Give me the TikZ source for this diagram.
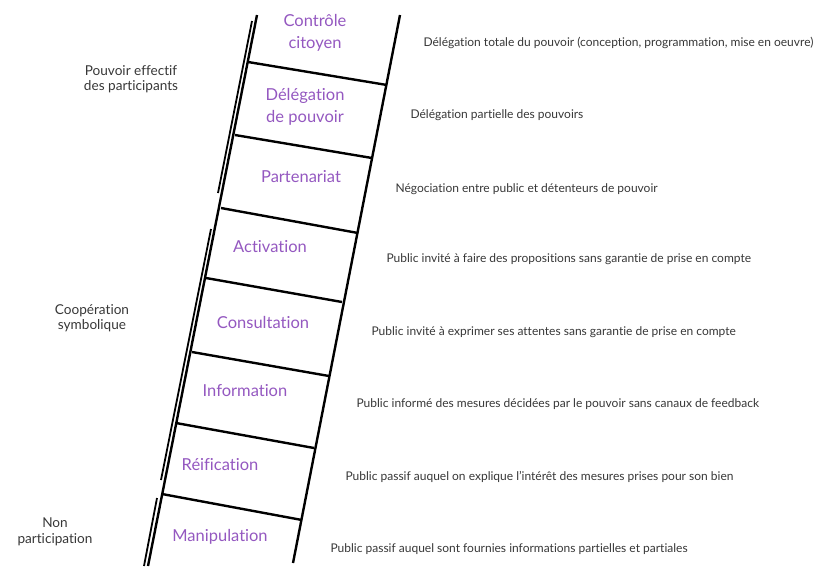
\documentclass[tikz,border=0pt]{standalone}
\usepackage{fontspec}
\setmainfont{Lato}[Ligatures = NoCommon]
\definecolor{violet}{RGB}{148,88,192}
\definecolor{gris}{RGB}{55,55,55}
\begin{document}
\begin{tikzpicture}[x = 1pt, y = -1pt,
        montant/.style = {line width = 2.4pt},
        barreau/.style = {line width = 2.4pt},
        groupe/.style = {line width = 1.8pt},
        niveau/.style = {text = violet, font = \fontsize{16.5}{21.5}\selectfont, align = center},
        desc/.style = {text = gris, anchor = west, font = \fontsize{12}{14}\selectfont},
        classe/.style = {text = gris, align = center, font = \fontsize{13.6}{15.5}\selectfont}]
                \useasboundingbox (0, 0) rectangle (821, 566);
                % montants
                \coordinate (gh) at (257, 15);
                \coordinate (gb) at (148, 566);
                \coordinate (dh) at (400, 15);
                \coordinate (db) at (293, 563);
                \draw[montant] (gh) -- (gb);
                \draw[montant] (dh) -- (db);
                % barreaux
                \coordinate (b1g) at (248, 62);   \coordinate (b1d) at (387, 85);
                \coordinate (b2g) at (235, 135);  \coordinate (b2d) at (372, 158);
                \coordinate (b3g) at (221, 208);  \coordinate (b3d) at (358, 233);
                \coordinate (b4g) at (206, 278);  \coordinate (b4d) at (342, 302);
                \coordinate (b5g) at (192, 352);  \coordinate (b5d) at (329, 376);
                \coordinate (b6g) at (176, 423);  \coordinate (b6d) at (314, 448);
                \coordinate (b7g) at (162, 494);  \coordinate (b7d) at (302, 520);
                \draw[barreau] (b1g) -- (b1d);
                \draw[barreau] (b2g) -- (b2d);
                \draw[barreau] (b3g) -- (b3d);
                \draw[barreau] (b4g) -- (b4d);
                \draw[barreau] (b5g) -- (b5d);
                \draw[barreau] (b6g) -- (b6d);
                \draw[barreau] (b7g) -- (b7d);
                % doubles traits des groupes
                \coordinate (p1h) at (252, 21);   \coordinate (p1b) at (218, 193);
                \coordinate (p2h) at (211, 229);  \coordinate (p2b) at (161, 480);
                \coordinate (p3h) at (157, 498);  \coordinate (p3b) at (144, 566);
                \draw[groupe] (p1h) -- (p1b);
                \draw[groupe] (p2h) -- (p2b);
                \draw[groupe] (p3h) -- (p3b);
                % niveaux
                \node[niveau] (controle) at (315, 33) {Contrôle\\citoyen};
                \node[niveau] (delegation) at (305, 107) {Délégation\\de pouvoir};
                \node[niveau] (partenariat) at (301, 177) {Partenariat};
                \node[niveau] (activation) at (270, 247) {Activation};
                \node[niveau] (consultation) at (263, 322) {Consultation};
                \node[niveau] (information) at (245, 391) {Information};
                \node[niveau] (reification) at (220, 465) {Réification};
                \node[niveau] (manipulation) at (220, 537) {Manipulation};
                % descriptions
                \node[desc] (d1) at (420, 43) {Délégation totale du pouvoir (conception, programmation, mise en oeuvre)};
                \node[desc] (d2) at (407, 115) {Délégation partielle des pouvoirs};
                \node[desc] (d3) at (392, 189) {Négociation entre public et détenteurs de pouvoir};
                \node[desc] (d4) at (383, 259) {Public invité à faire des propositions sans garantie de prise en compte};
                \node[desc] (d5) at (368, 332) {Public invité à exprimer ses attentes sans garantie de prise en compte};
                \node[desc] (d6) at (353, 404) {Public informé des mesures décidées par le pouvoir sans canaux de feedback};
                \node[desc] (d7) at (342, 477) {Public passif auquel on explique l'intérêt des mesures prises pour son bien};
                \node[desc] (d8) at (327, 549) {Public passif auquel sont fournies informations partielles et partiales};
                % groupes
                \node[classe] (pouvoir) at (131, 79) {Pouvoir effectif\\des participants};
                \node[classe] (cooperation) at (92, 318) {Coopération\\symbolique};
                \node[classe] (nonpart) at (55, 532) {Non\\participation};
\end{tikzpicture}
\end{document}
